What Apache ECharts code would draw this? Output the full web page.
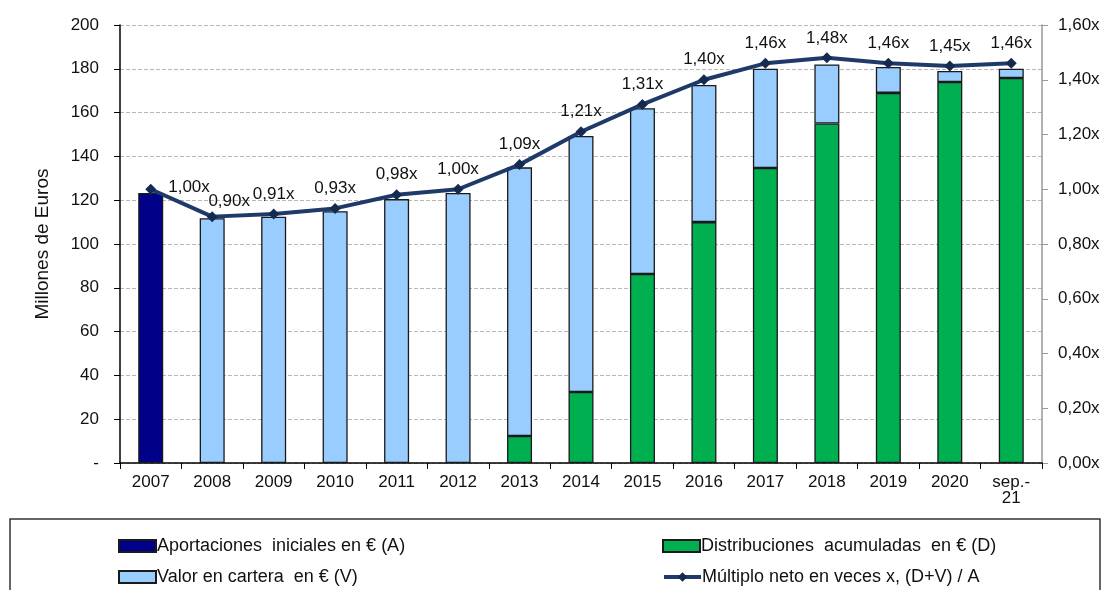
<!DOCTYPE html>
<html><head><meta charset="utf-8">
<script src="https://cdn.jsdelivr.net/npm/echarts@6/dist/echarts.min.js"></script>
<style>html,body{margin:0;padding:0;background:#fff}#c{width:1109px;height:590px}</style>
</head><body><div id="c"></div>
<script>
const categories = ['2007','2008','2009','2010','2011','2012','2013','2014','2015','2016','2017','2018','2019','2020','sep.-\n21'];
const aportaciones = [123.3, null, null, null, null, null, null, null, null, null, null, null, null, null, null];
const distribuciones = [null, null, null, null, null, null, 12.3, 32.4, 86.3, 110.0, 134.7, 155.0, 169.0, 174.0, 175.8];
const valor = [null, 111.8, 112.5, 115.0, 120.5, 123.3, 122.7, 116.9, 75.7, 62.6, 45.3, 27.0, 11.8, 5.0, 4.2];
const multiplo = [1.00, 0.90, 0.91, 0.93, 0.98, 1.00, 1.09, 1.21, 1.31, 1.40, 1.46, 1.48, 1.46, 1.45, 1.46];
const leftAxis = {min: 0, max: 200, interval: 20};
const rightAxis = {min: 0, max: 1.6, interval: 0.2};
const names = ['Aportaciones  iniciales en € (A)', 'Valor en cartera  en € (V)', 'Distribuciones  acumuladas  en € (D)', 'Múltiplo neto en veces x, (D+V) / A'];

const FONT = "'Liberation Sans',Arial,sans-serif";
const fmtX = v => v.toFixed(2).replace('.', ',') + 'x';
const chart = echarts.init(document.getElementById('c'));
const barBorder = {borderColor: '#1a1a1a', borderWidth: 1.3};
chart.setOption({
  animation: false,
  textStyle: {fontFamily: FONT},
  grid: {left: 120, right: 67, top: 25, bottom: 127},
  graphic: [{type: 'rect', shape: {x: 10, y: 519, width: 1090, height: 80}, style: {fill: 'none', stroke: '#333', lineWidth: 1.5}}],
  legend: [
    {data: [names[0]], left: 118, top: 537},
    {data: [names[1]], left: 118, top: 568},
    {data: [names[2]], left: 662, top: 537},
    {data: [names[3]], left: 662, top: 568, lineStyle: {width: 4}}
  ].map(l => Object.assign(l, {itemWidth: 37, itemHeight: 12, itemGap: 2, padding: 0, icon: l.data[0] === names[3] ? undefined : 'rect',
    textStyle: {fontFamily: FONT, fontSize: 18, color: '#111', padding: [0, 0, 0, -4]}})),
  xAxis: {
    type: 'category', data: categories,
    axisLine: {lineStyle: {color: '#000', width: 1.5}},
    axisTick: {show: true, length: 6, lineStyle: {color: '#000'}},
    axisLabel: {fontFamily: FONT, fontSize: 17, color: '#111', margin: 11, lineHeight: 16}
  },
  yAxis: [
    {type: 'value', min: leftAxis.min, max: leftAxis.max, interval: leftAxis.interval,
     name: 'Millones de Euros', nameLocation: 'middle', nameGap: 68,
     nameTextStyle: {fontFamily: FONT, fontSize: 19, color: '#111'},
     axisLine: {show: true, lineStyle: {color: '#000', width: 1.5}},
     axisTick: {show: true, length: 6, lineStyle: {color: '#000'}},
     axisLabel: {fontFamily: FONT, fontSize: 17, color: '#111', margin: 21, formatter: v => v === 0 ? '-' : String(v)},
     splitLine: {show: true, lineStyle: {color: '#b8b8b8', type: 'dashed', width: 1}}},
    {type: 'value', min: rightAxis.min, max: rightAxis.max, interval: rightAxis.interval, position: 'right',
     axisLine: {show: true, lineStyle: {color: '#999', width: 1.5}},
     axisTick: {show: true, length: 6, lineStyle: {color: '#999'}},
     axisLabel: {fontFamily: FONT, fontSize: 17, color: '#111', margin: 16, formatter: fmtX},
     splitLine: {show: false}}
  ],
  series: [
    {name: names[0], type: 'bar', stack: 'a', data: aportaciones, barWidth: 25, itemStyle: Object.assign({color: '#000088'}, barBorder)},
    {name: names[2], type: 'bar', stack: 'a', data: distribuciones, barWidth: 25, itemStyle: Object.assign({color: '#00AF50'}, barBorder)},
    {name: names[1], type: 'bar', stack: 'a', data: valor, barWidth: 25, itemStyle: Object.assign({color: '#99CCFF'}, barBorder)},
    {name: names[3], type: 'line', yAxisIndex: 1, z: 5,
     data: multiplo.map((v, i) => i === 0 ? {value: v, label: {position: 'right', distance: 12, offset: [0, -2]}}
                                : i === 1 ? {value: v, label: {offset: [17, 5]}} : v),
     lineStyle: {color: '#1F3A68', width: 4},
     itemStyle: {color: '#152a50'}, symbol: 'diamond', symbolSize: 11,
     label: {show: true, position: 'top', distance: 6, fontFamily: FONT, fontSize: 17, color: '#111', formatter: p => fmtX(p.value)}}
  ]
});
</script></body></html>
